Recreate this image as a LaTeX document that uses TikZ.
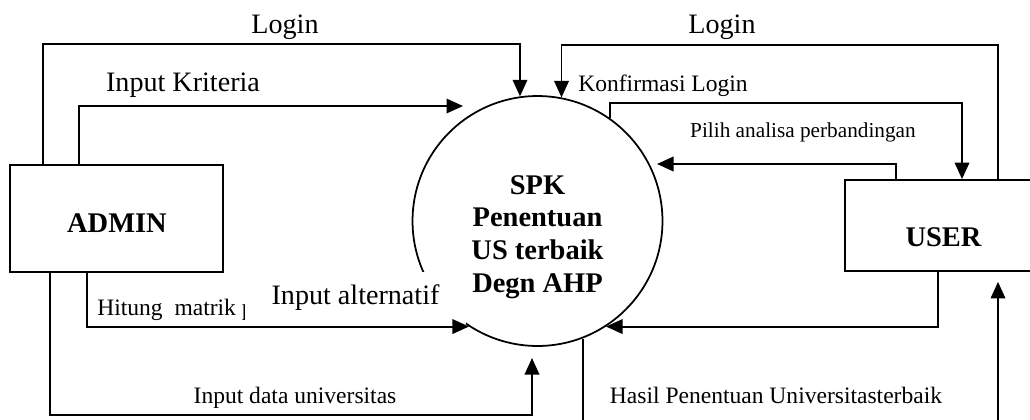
\documentclass[tikz,border=0pt]{standalone}
\usepackage{fontspec}
\setmainfont{Liberation Serif}
\usetikzlibrary{arrows.meta,positioning,calc}

\tikzset{
  entity/.style={draw,line width=1pt,rectangle,inner sep=0pt},
  process/.style={draw,line width=1pt,circle,inner sep=0pt,minimum size=5cm},
  flow/.style={line width=1.1pt,-{Triangle[length=0.33cm,width=0.29cm]}},
  lbl/.style={inner sep=0pt},
  bigtxt/.style={lbl,font=\fontsize{16}{19}\selectfont},
  smalltxt/.style={lbl,font=\fontsize{13.4}{16}\selectfont},
  tinytxt/.style={lbl,font=\fontsize{12.1}{14}\selectfont},
  boldtxt/.style={lbl,font=\fontsize{16.2}{18.7}\selectfont\bfseries},
}

\begin{document}
\begin{tikzpicture}[x=0.02cm,y=-0.02cm]
\useasboundingbox (0,0) rectangle (1030,419);
\clip (0,0) rectangle (1030,419);
% external entities and the process
\node[entity,minimum width=4.26cm,minimum height=2.14cm] (admin) at (116.5,218.5) {};
\node[entity,minimum width=3.92cm,minimum height=1.82cm] (user) at (943,225.5) {};
\node[process] (spk) at (537.5,221) {};
\node[boldtxt,anchor=base] (adminLbl) at (117,232.5) {ADMIN};
\node[boldtxt,anchor=base] (userLbl) at (943.5,246.5) {USER};
\node[boldtxt,align=center] (spkLbl) at (537.5,237) {SPK\\Penentuan\\US terbaik\\Degn AHP};
% bends of the flows
\coordinate (lgA) at (43,44);
\coordinate (krA) at (79,106);
\coordinate (krEnd) at (463,106);
\coordinate (lgB) at (998,45);
\coordinate (kfA) at (962,103);
\coordinate (plA) at (896,164);
\coordinate (plEnd) at (657,164);
\coordinate (usA) at (938,326);
\coordinate (hmA) at (87,326);
\coordinate (dtA) at (50,415);
\coordinate (dtB) at (532,415);
\coordinate (dtEnd) at (532,358);
\coordinate (hsA) at (582,440);
\coordinate (hsB) at (998,440);
% flow labels
\node[bigtxt,anchor=base] (loginL) at (285,33) {Login};
\node[bigtxt,anchor=base] (loginR) at (722,33) {Login};
\node[bigtxt,anchor=base] (kriteria) at (183,91) {Input Kriteria};
\node[smalltxt,anchor=base west] (konfirmasi) at (578,91) {Konfirmasi Login};
\node[tinytxt,anchor=base] (pilih) at (803,137) {Pilih analisa perbandingan};
\node[smalltxt,anchor=base west] (hitung) at (97,315) {Hitung\ \ matrik p};
\node[bigtxt,fill=white,minimum width=4.42cm,minimum height=1.04cm] (alternatif) at (355.5,298) {Input alternatif};
\node[smalltxt,anchor=base] (dataUniv) at (295,403) {Input data universitas};
\node[smalltxt,anchor=base] (hasil) at (776,403) {Hasil Penentuan Universitasterbaik};
% flows
\draw[flow] (admin.north -| lgA) -- (lgA) -| (spk.98.5);
\draw[flow] (admin.north -| krA) -- (krA) -- (krEnd);
\draw[flow] (user.north -| lgB) -- (lgB) -| (spk.79.6);
\draw[flow] (spk.55) |- (kfA) -- (kfA |- user.north);
\draw[flow] (user.north -| plA) -- (plA) -- (plEnd);
\draw[flow] (user.south -| usA) |- (spk.-57);
\draw[flow] (admin.south -| hmA) |- (spk.-123);
\draw[flow] (admin.south -| dtA) -- (dtA) -- (dtB) -- (dtEnd);
\draw[flow,shorten >=0.2cm] (spk.-69) -- (spk.-69 |- hsA) -| (user.south -| hsB);
\end{tikzpicture}
\end{document}
